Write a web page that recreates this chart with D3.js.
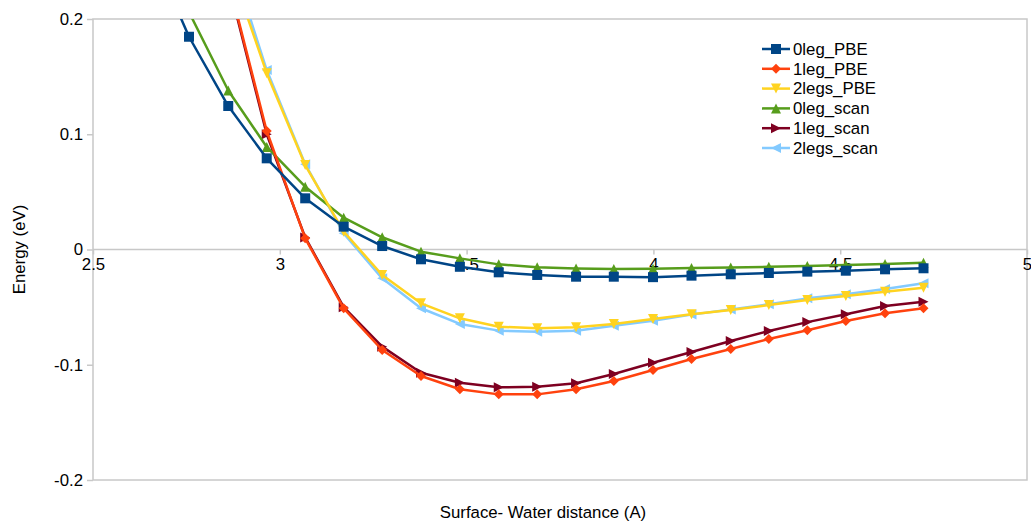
<!DOCTYPE html>
<html>
<head>
<meta charset="utf-8">
<script src="https://cdn.jsdelivr.net/npm/d3@7"></script>
<style>
  body { margin: 0; background: #fff; }
  text { font-family: 'Liberation Sans', Arial, sans-serif; fill: #000; }
</style>
</head>
<body>
<script>
// surface-water distance (A), shared by all series
var distances = [2.654, 2.757, 2.862, 2.965, 3.068, 3.171, 3.274, 3.378, 3.482, 3.586, 3.689,
                 3.793, 3.894, 3.999, 4.102, 4.207, 4.309, 4.412, 4.515, 4.620, 4.723];

// energies (eV), null where the curve is not in the picture
var leg0PBE  = [0.261, 0.1846, 0.1245, 0.0791, 0.0444, 0.0198, 0.003, -0.0085, -0.015, -0.0198, -0.0221,
                -0.0236, -0.0236, -0.024, -0.0227, -0.0215, -0.0204, -0.0192, -0.0184, -0.0172, -0.0163];
var leg1PBE  = [null, null, 0.234, 0.1028, 0.0097, -0.051, -0.0872, -0.1098, -0.1213, -0.1257, -0.1257,
                -0.1213, -0.1141, -0.1046, -0.095, -0.0863, -0.0777, -0.07, -0.062, -0.0554, -0.051];
var legs2PBE = [null, null, 0.25, 0.153, 0.0733, 0.0155, -0.0221, -0.0467, -0.0597, -0.067, -0.0684,
                -0.0675, -0.0646, -0.0603, -0.0562, -0.0525, -0.0482, -0.0438, -0.0403, -0.0366, -0.0331];
var leg0Scan = [null, 0.206, 0.138, 0.089, 0.0545, 0.0276, 0.0106, -0.0019, -0.0077, -0.0129, -0.0155,
                -0.0164, -0.017, -0.0166, -0.0161, -0.0156, -0.015, -0.0143, -0.0135, -0.0125, -0.0115];
var leg1Scan = [null, null, 0.232, 0.100, 0.0105, -0.050, -0.0843, -0.1069, -0.1156, -0.1196, -0.119,
                -0.1161, -0.108, -0.0982, -0.089, -0.0794, -0.0707, -0.063, -0.0562, -0.049, -0.0453];
var legs2Scan = [null, null, 0.26, 0.1557, 0.074, 0.014, -0.025, -0.051, -0.0646, -0.0704, -0.0713,
                 -0.0704, -0.0661, -0.0618, -0.0565, -0.052, -0.0476, -0.0424, -0.0389, -0.0343, -0.0293];

var seriesNames = ['0leg_PBE', '1leg_PBE', '2legs_PBE', '0leg_scan', '1leg_scan', '2legs_scan'];
var seriesValues = [leg0PBE, leg1PBE, legs2PBE, leg0Scan, leg1Scan, legs2Scan];

var xTicks = [2.5, 3, 3.5, 4, 4.5, 5];
var yTicks = [-0.2, -0.1, 0, 0.1, 0.2];

// styles
var seriesColors = ['#004586', '#ff420e', '#ffd320', '#579d1c', '#7e0021', '#83caff'];
var seriesMarkers = ['square', 'diamond', 'down', 'up', 'right', 'left'];

var width = 1031,
    height = 522,
    fontSize = '16.8px';

var x = d3.scaleLinear().domain([2.5, 5]).range([93, 1027]);
var y = d3.scaleLinear().domain([-0.2, 0.2]).range([480, 19]);

function markerPath(kind, r) {
  if (kind === 'square') return 'M' + (-r) + ',' + (-r) + 'H' + r + 'V' + r + 'H' + (-r) + 'Z';
  if (kind === 'diamond') return 'M0,' + (-r) + 'L' + r + ',0L0,' + r + 'L' + (-r) + ',0Z';
  if (kind === 'down') return 'M' + (-r) + ',' + (-r) + 'L' + r + ',' + (-r) + 'L0,' + r + 'Z';
  if (kind === 'up') return 'M' + (-r) + ',' + r + 'L' + r + ',' + r + 'L0,' + (-r) + 'Z';
  if (kind === 'right') return 'M' + (-r) + ',' + (-r) + 'L' + r + ',0L' + (-r) + ',' + r + 'Z';
  return 'M' + r + ',' + (-r) + 'L' + (-r) + ',0L' + r + ',' + r + 'Z';
}

var svg = d3.select('body')
  .append('svg')
  .attr('width', width)
  .attr('height', height);

svg.append('defs').append('clipPath')
  .attr('id', 'plotClip')
  .append('rect')
  .attr('x', x(2.5))
  .attr('y', y(0.2))
  .attr('width', x(5) - x(2.5))
  .attr('height', y(-0.2) - y(0.2));

// frame and zero line
svg.append('rect')
  .attr('x', x(2.5))
  .attr('y', y(0.2))
  .attr('width', x(5) - x(2.5))
  .attr('height', y(-0.2) - y(0.2))
  .attr('fill', 'none')
  .attr('stroke', '#c8c8c8')
  .attr('stroke-width', 1.5);

svg.append('line')
  .attr('x1', x(2.5))
  .attr('x2', x(5))
  .attr('y1', y(0))
  .attr('y2', y(0))
  .attr('stroke', '#c8c8c8')
  .attr('stroke-width', 1.5);

var yAxis = svg.append('g')
  .attr('transform', 'translate(' + x(2.5) + ',0)')
  .call(d3.axisLeft(y).tickValues(yTicks).tickSize(6).tickPadding(4)
    .tickFormat(function (d) { return String(d); }));

var xAxis = svg.append('g')
  .attr('transform', 'translate(0,' + y(0) + ')')
  .call(d3.axisBottom(x).tickValues(xTicks).tickSize(5).tickPadding(4)
    .tickFormat(function (d) { return String(d); }));

[yAxis, xAxis].forEach(function (g) {
  g.select('.domain').remove();
  g.selectAll('.tick line').attr('stroke', '#c8c8c8').attr('stroke-width', 1.5);
  g.selectAll('.tick text')
    .style('font-family', "'Liberation Sans', Arial, sans-serif")
    .style('font-size', fontSize)
    .attr('fill', '#000');
});

// series, last one drawn first
var line = d3.line()
  .defined(function (d) { return d[1] !== null; })
  .x(function (d) { return x(d[0]); })
  .y(function (d) { return y(d[1]); });

var plot = svg.append('g').attr('clip-path', 'url(#plotClip)');

d3.range(seriesValues.length - 1, -1, -1).forEach(function (i) {
  var vals = seriesValues[i];
  var pts = distances.map(function (d, j) { return [d, vals[j]]; });

  plot.append('path')
    .datum(pts)
    .attr('d', line)
    .attr('fill', 'none')
    .attr('stroke', seriesColors[i])
    .attr('stroke-width', 2.5)
    .attr('stroke-linejoin', 'round');

  plot.selectAll('.m' + i)
    .data(pts.filter(function (d) { return d[1] !== null; }))
    .enter().append('path')
    .attr('class', 'm' + i)
    .attr('transform', function (d) { return 'translate(' + x(d[0]) + ',' + y(d[1]) + ')'; })
    .attr('d', markerPath(seriesMarkers[i], 5))
    .attr('fill', seriesColors[i]);
});

// legend
var legend = svg.append('g').attr('transform', 'translate(762,49)');

var rows = legend.selectAll('g')
  .data(seriesNames)
    .enter().append('g')
    .attr('transform', function (d, i) { return 'translate(0,' + (i * 19.8) + ')'; });

rows.append('line')
  .attr('x1', 0)
  .attr('x2', 28)
  .attr('stroke', function (d, i) { return seriesColors[i]; })
  .attr('stroke-width', 2.5);

rows.append('path')
  .attr('transform', 'translate(14,0)')
  .attr('d', function (d, i) { return markerPath(seriesMarkers[i], 5); })
  .attr('fill', function (d, i) { return seriesColors[i]; });

rows.append('text')
  .attr('x', 31)
  .attr('dy', '0.35em')
  .style('font-size', fontSize)
  .text(function (d) { return d; });

// axis titles
svg.append('text')
  .attr('transform', 'translate(25,' + y(0) + ') rotate(-90)')
  .attr('text-anchor', 'middle')
  .style('font-size', fontSize)
  .text('Energy (eV)');

svg.append('text')
  .attr('x', 543)
  .attr('y', 518)
  .attr('text-anchor', 'middle')
  .style('font-size', fontSize)
  .text('Surface- Water distance (A)');
</script>
</body>
</html>
